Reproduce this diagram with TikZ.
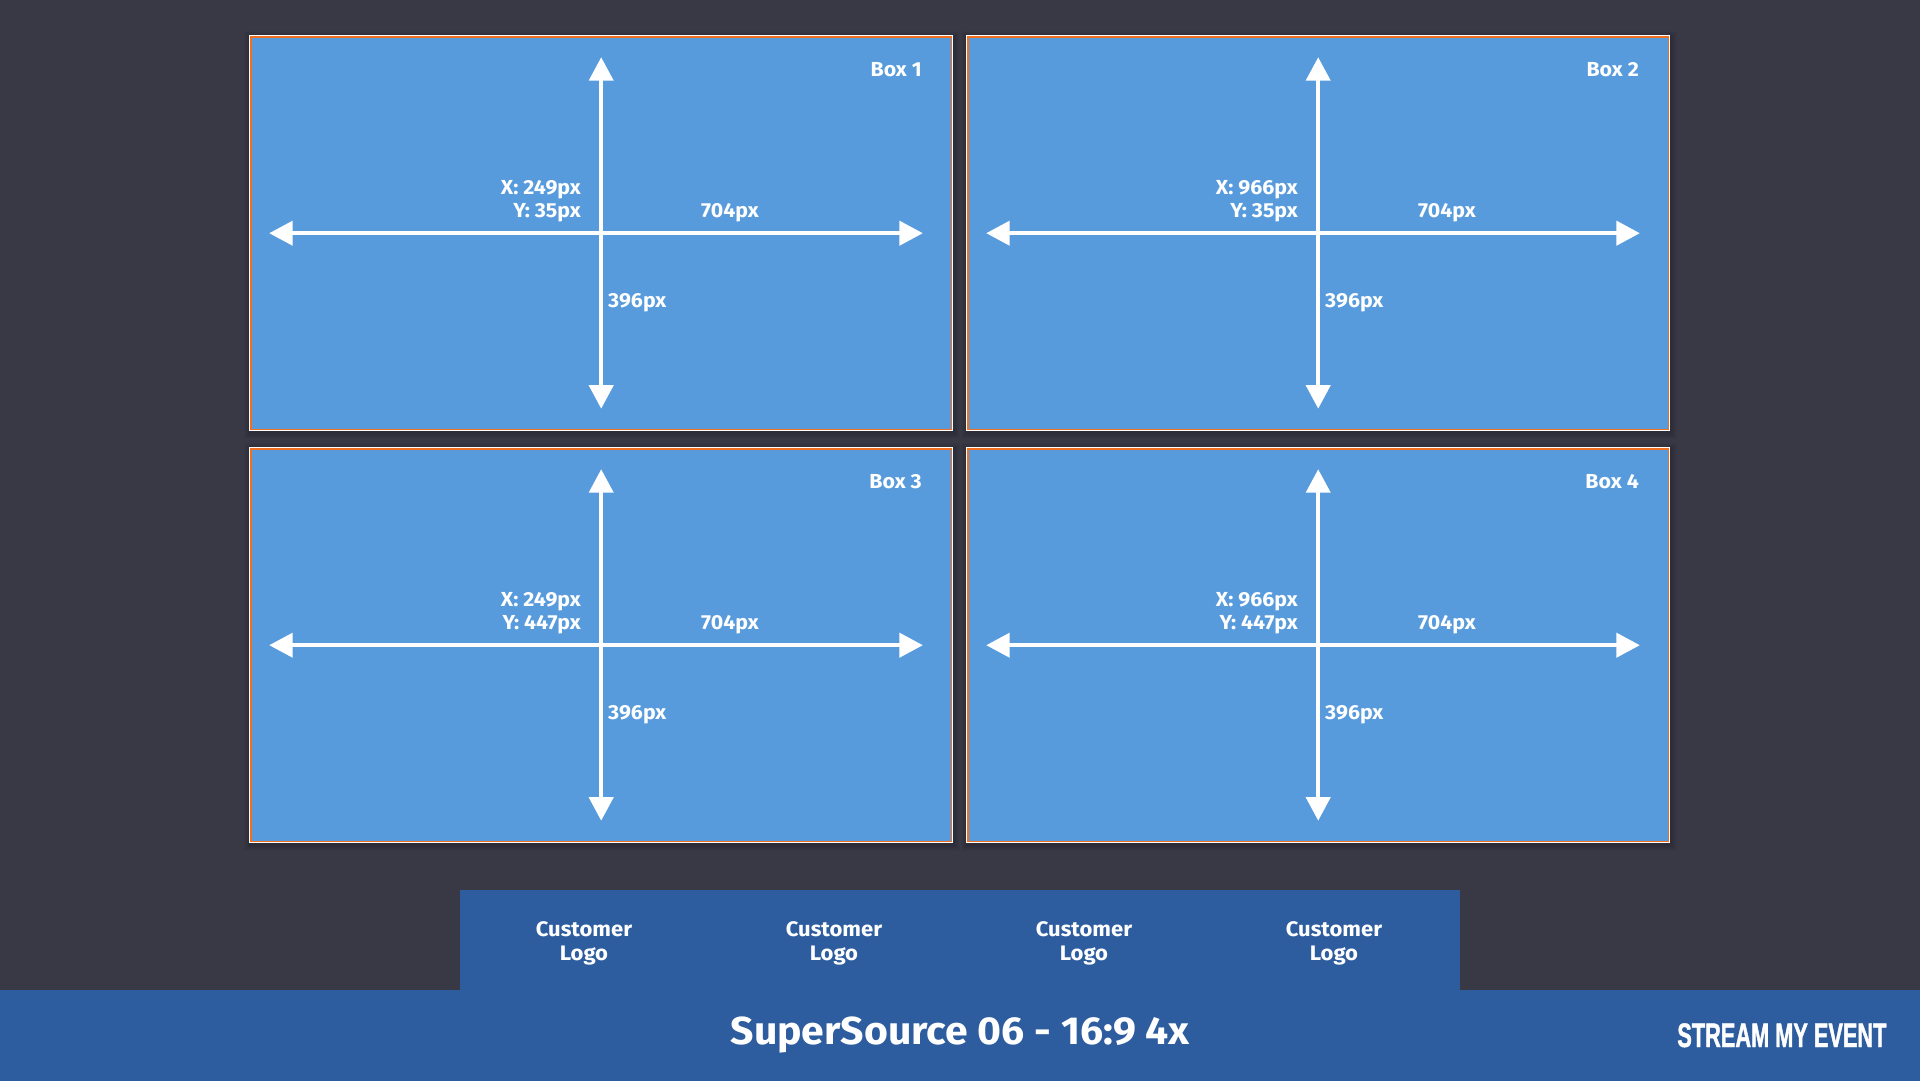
\documentclass[tikz,border=0pt]{standalone}
\usepackage{fontspec}
\setmainfont{Fira Sans}
\newfontfamily\uifont[FakeStretch=1.05]{Fira Sans Bold}
\newfontfamily\logofont[FakeStretch=0.64,FakeBold=1.2]{Liberation Sans Bold}
\usetikzlibrary{arrows.meta,calc}
\definecolor{bgdark}{HTML}{393945}
\definecolor{boxblue}{HTML}{579BDD}
\definecolor{barblue}{HTML}{2E5D9F}
\definecolor{edgeorange}{HTML}{F07020}
\tikzset{
  panelouter/.style={draw=none,fill=white,minimum width=704pt,minimum height=396pt,inner sep=0,anchor=north west},
  panelinner/.style={draw=edgeorange,line width=1.4pt,fill=boxblue,minimum width=700.6pt,minimum height=392.6pt,inner sep=0},
  dimarrow/.style={draw=white,line width=4pt,{Triangle[width=24pt,length=23.5pt]}-{Triangle[width=24pt,length=23.5pt]}},
  lbl/.style={text=white,inner sep=0,font=\fontsize{20.3}{23}\selectfont\uifont},
  logotext/.style={text=white,inner sep=0,align=center,font=\fontsize{21}{24.2}\selectfont\uifont},
  barfill/.style={fill=barblue,draw=none,inner sep=0,anchor=north west},
}
\newcommand{\panelbox}[6]{%
  \foreach \g in {1,...,6}{
    \fill[black,opacity=0.025] ({#2+1-\g},{#3+2-\g}) rectangle ({#2+704+1+\g},{#3+396+2+\g});
  }
  \node[panelouter] (#1) at (#2,#3) {};
  \node[panelinner] (#1in) at (#1.center) {};
  \coordinate (#1L) at ($(#1.center)+(-332,0)$);
  \coordinate (#1R) at ($(#1.center)+(321.7,0)$);
  \coordinate (#1T) at ($(#1.center)+(0,-176)$);
  \coordinate (#1B) at ($(#1.center)+(0,175.5)$);
  \draw[dimarrow] (#1T) -- (#1B);
  \draw[dimarrow] (#1L) -- (#1R);
  \node[lbl,anchor=base east] (#1title) at ($(#2,#3)+(673,41)$) {#6};
  \node[lbl,anchor=base east] (#1xl) at ($(#2,#3)+(332,159.3)$) {#4};
  \node[lbl,anchor=base east] (#1yl) at ($(#2,#3)+(332,182.3)$) {#5};
  \node[lbl,anchor=base] (#1w) at ($(#2,#3)+(481,182.5)$) {704px};
  \node[lbl,anchor=base west] (#1h) at ($(#2,#3)+(359,272)$) {396px};
}
\begin{document}
\begin{tikzpicture}[x=1pt,y=-1pt]
\useasboundingbox (0,0) rectangle (1920,1080);
\fill[bgdark] (-2,-2) rectangle (1922,1082);
\panelbox{a}{249}{35}{X: 249px}{Y: 35px}{Box 1}
\panelbox{b}{966}{35}{X: 966px}{Y: 35px}{Box 2}
\panelbox{c}{249}{447}{X: 249px}{Y: 447px}{Box 3}
\panelbox{d}{966}{447}{X: 966px}{Y: 447px}{Box 4}
\node[barfill,minimum width=1000pt,minimum height=101pt] (logobar) at (460,890) {};
\node[barfill,minimum width=1924pt,minimum height=94pt] (footer) at (-2,990) {};
\node[logotext,anchor=north] (l1) at (584,921.5) {Customer\\Logo};
\node[logotext,anchor=north] (l2) at (834,921.5) {Customer\\Logo};
\node[logotext,anchor=north] (l3) at (1084,921.5) {Customer\\Logo};
\node[logotext,anchor=north] (l4) at (1334,921.5) {Customer\\Logo};
\node[text=white,inner sep=0,anchor=base,font=\fontsize{39}{46}\selectfont\uifont] (title) at (960,1044) {SuperSource 06 - 16:9 4x};
\node[text=white,inner sep=0,anchor=base east,font=\fontsize{34}{40}\selectfont\logofont] (brand) at (1886.7,1047) {STREAM MY EVENT};
\end{tikzpicture}
\end{document}
